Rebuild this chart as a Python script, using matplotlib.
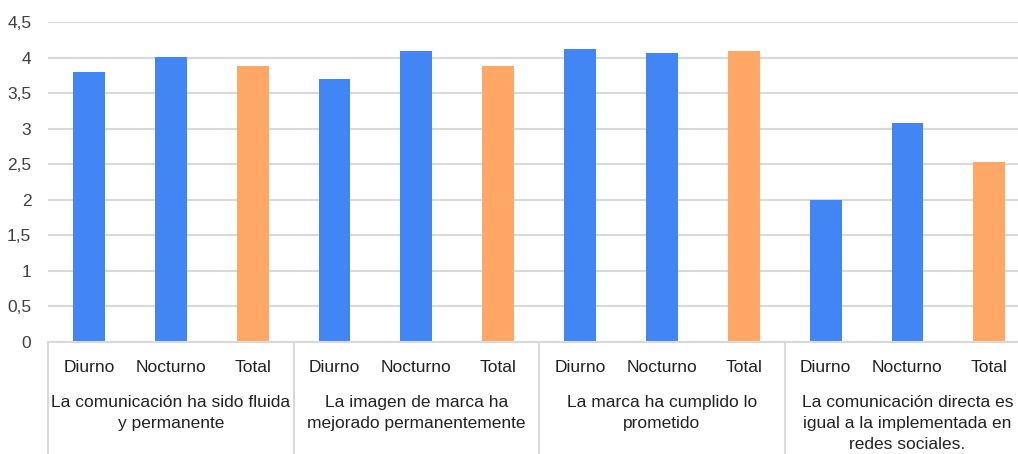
import matplotlib.pyplot as plt
from matplotlib.ticker import FuncFormatter

# Data
groups = [
    "La comunicación ha sido fluida\ny permanente",
    "La imagen de marca ha\nmejorado permanentemente",
    "La marca ha cumplido lo\nprometido",
    "La comunicación directa es\nigual a la implementada en\nredes sociales.",
]
series = ["Diurno", "Nocturno", "Total"]
diurno = [3.80, 3.70, 4.12, 2.00]
nocturno = [4.01, 4.09, 4.07, 3.08]
total = [3.89, 3.89, 4.09, 2.53]

blue = "#4285F4"
orange = "#FFA766"
grid_c = "#D9D9D9"

plt.rcParams['font.family'] = ['Liberation Sans', 'DejaVu Sans']

fig = plt.figure(figsize=(10.18, 4.54), dpi=100)
ax = fig.add_axes([48 / 1018, 112.3 / 454, 970 / 1018, 319.5 / 454])

values = []
colors = []
for d, n, t in zip(diurno, nocturno, total):
    values += [d, n, t]
    colors += [blue, blue, orange]
x = list(range(len(values)))
ax.bar(x, values, width=0.39, color=colors, zorder=3)

ax.set_ylim(0, 4.5)
ax.set_xlim(-0.5, 11.35)
ax.set_yticks([i * 0.5 for i in range(10)])
ax.yaxis.set_major_formatter(FuncFormatter(lambda v, p: f"{v:g}".replace(".", ",")))
ax.tick_params(axis='y', length=0, pad=12, labelsize=12.5, labelcolor="#404040")
ax.set_xticks([])
ax.grid(axis='y', color=grid_c, linewidth=1.5, zorder=0)
for s in ['top', 'right', 'left']:
    ax.spines[s].set_visible(False)
ax.spines['bottom'].set_color(grid_c)
ax.spines['bottom'].set_linewidth(1.5)
ax.spines['bottom'].set_zorder(4)

trans = ax.get_xaxis_transform()
# separators between groups
for b in [-0.5, 2.5, 5.5, 8.5]:
    ax.plot([b, b], [0, -0.352], transform=trans, color=grid_c,
            linewidth=1.5, clip_on=False)

for i in x:
    ax.text(i, -0.08, series[i % 3], transform=trans, ha='center',
            va='center', fontsize=12.5, color="#222222")

for g, label in enumerate(groups):
    ax.text(g * 3 + 1, -0.166, label, transform=trans, ha='center',
            va='top', fontsize=12.5, color="#222222", linespacing=1.5)

fig.savefig("out.png", dpi=100)
